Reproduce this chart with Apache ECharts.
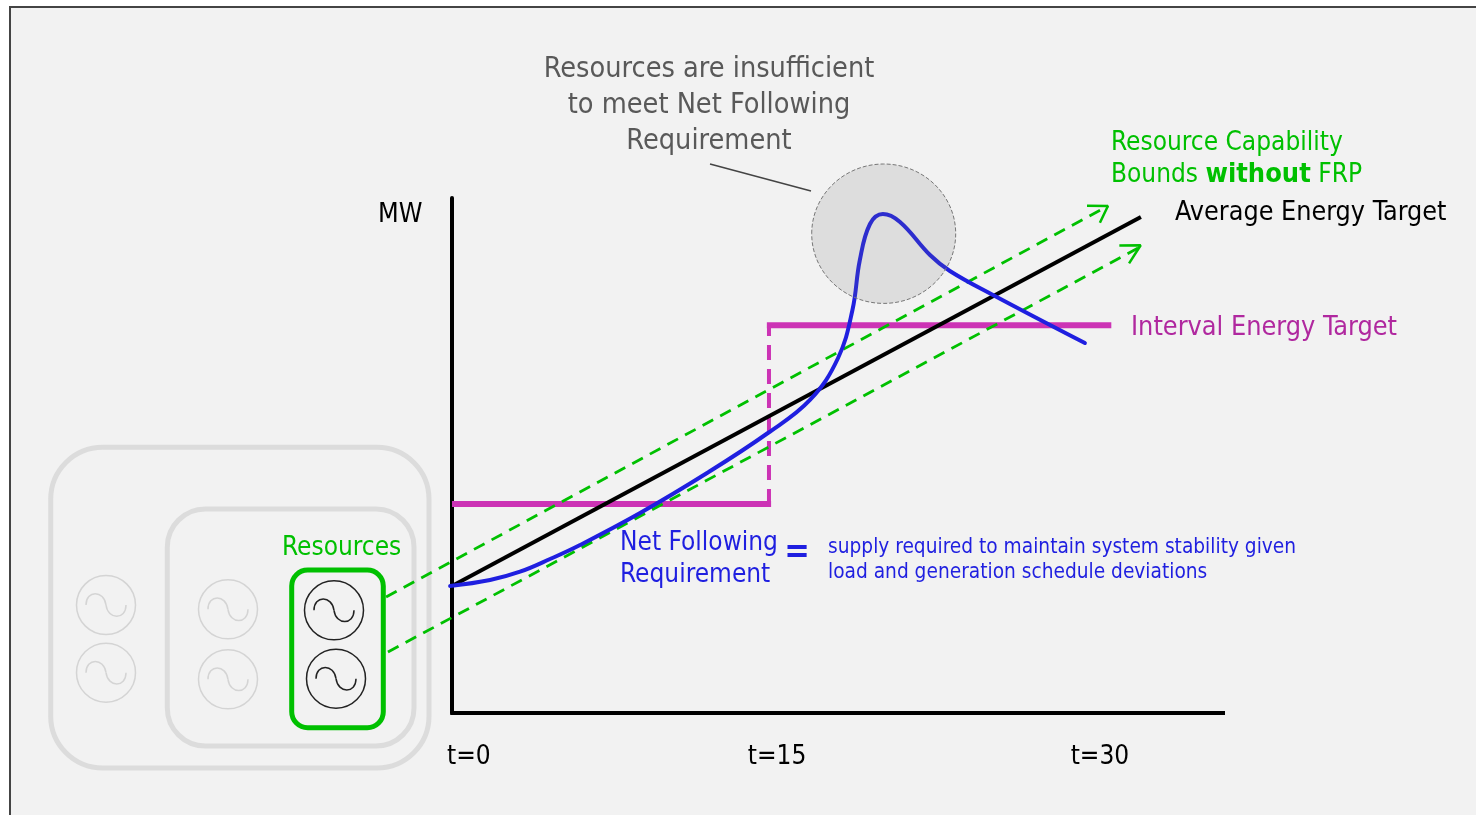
<!DOCTYPE html>
<html>
<head>
<meta charset="utf-8">
<title>Net Following Requirement</title>
<script src="https://cdn.jsdelivr.net/npm/echarts@6/dist/echarts.min.js"></script>
<style>
  html, body { margin: 0; padding: 0; background: #fff; }
  #chart { width: 1476px; height: 815px; }
</style>
</head>
<body>
<div id="chart"></div>
<script>
// x = minutes in the interval, y = MW on a 0-100 scale (no real units in the picture)
const X_TICK_POS = [0.8, 15.38, 30.66];   // labels sit a little off the real t values in the source
const X_TICK_LABELS = ["t=0", "t=15", "t=30"];

const BASE_X = [-0.08, 36.58];
const BASE_Y = [0, 0];

const AVG_X = [0, 32.6];
const AVG_Y = [24.66, 96.31];

const INTERVAL1_X = [0, 15.1];
const INTERVAL1_Y = [40.6, 40.6];
const INTERVAL2_X = [14.9, 31.2];
const INTERVAL2_Y = [75.3, 75.3];
const STEP_X = [15, 15];
const STEP_Y = [40.6, 75.3];

const UPPER_X = [-3.12, 31.04];
const UPPER_Y = [22.52, 98.45];
const UPPER_HEAD_X = [30.05, 31.04, 30.66];
const UPPER_HEAD_Y = [98.5, 98.45, 95.2];
const LOWER_X = [-3.03, 32.56];
const LOWER_Y = [11.84, 90.49];
const LOWER_HEAD_X = [31.58, 32.59, 32.04];
const LOWER_HEAD_Y = [90.78, 90.83, 87.32];

const NET_X = [-0.09, 1.8, 3.22, 4.64, 6.06, 8.9, 12.07, 14.95, 16.94, 18.27, 18.95, 19.3, 19.78, 20.39, 21.2, 22.62, 23.56, 25.6, 29.95];
const NET_Y = [24.66, 25.83, 27.44, 29.9, 32.62, 38.83, 46.6, 54.37, 60.78, 68.93, 78.25, 87.96, 94.95, 96.89, 95.34, 88.93, 85.83, 81.17, 71.84];

const FONT = "'DejaVu Sans Condensed', 'DejaVu Sans', sans-serif";
const GREEN = "#00c000";
const BLUE = "#1f1fe0";
const MAGENTA = "#cc33b5";

const zip = (xs, ys) => xs.map((x, i) => [x, ys[i]]);

function line(name, xs, ys, color, width, extra) {
  return {
    name, type: "line", data: zip(xs, ys), symbol: "none", clip: false, silent: true,
    lineStyle: { color, width, cap: "butt", ...(extra || {}) },
  };
}

function text(x, y, str, size, color, extra) {
  return {
    type: "text", x, y, z: 10, silent: true,
    style: { text: str, fontSize: size, fill: color, fontFamily: FONT, verticalAlign: "middle", ...(extra || {}) },
  };
}

function box(x1, y1, x2, y2, r, color, width) {
  return {
    type: "rect", silent: true, z: 1,
    shape: { x: x1, y: y1, width: x2 - x1, height: y2 - y1, r },
    style: { fill: "none", stroke: color, lineWidth: width },
  };
}

// generator symbol: circle with a sine wave in it (two bezier halves)
function gen(cx, cy, color) {
  const st = { fill: "none", stroke: color, lineWidth: 1.5 };
  return [
    { type: "circle", silent: true, z: 1, shape: { cx, cy, r: 29.5 }, style: st },
    { type: "bezierCurve", silent: true, z: 1,
      shape: { x1: cx - 20, y1: cy, cpx1: cx - 20, cpy1: cy - 15, cpx2: cx - 2, cpy2: cy - 15, x2: cx, y2: cy }, style: st },
    { type: "bezierCurve", silent: true, z: 1,
      shape: { x1: cx, y1: cy, cpx1: cx + 2, cpy1: cy + 15, cpx2: cx + 20, cpy2: cy + 15, x2: cx + 20, y2: cy }, style: st },
  ];
}

const chart = echarts.init(document.getElementById("chart"), null, { renderer: "canvas" });

chart.setOption({
  animation: false,
  backgroundColor: "#fff",
  // grid starts left of t=0 so the green bounds can run back to the resources box
  grid: { left: 384, right: 251, top: 198, bottom: 102 },
  xAxis: {
    type: "value", min: -3.218, max: 36.58,
    axisLine: { show: false },
    axisTick: { show: false }, splitLine: { show: false },
    axisLabel: {
      customValues: X_TICK_POS, margin: 31, color: "#000", fontSize: 26, fontFamily: FONT,
      formatter: v => X_TICK_LABELS[X_TICK_POS.indexOf(v)],
    },
  },
  yAxis: {
    type: "value", min: 0, max: 100,
    axisLine: { show: true, onZero: true, lineStyle: { color: "#000", width: 4 } },
    axisTick: { show: false }, splitLine: { show: false }, axisLabel: { show: false },
  },
  series: [
    line("Baseline", BASE_X, BASE_Y, "#000", 4),
    line("Interval Energy Target", INTERVAL1_X, INTERVAL1_Y, MAGENTA, 6),
    line("Interval Energy Target 2", INTERVAL2_X, INTERVAL2_Y, MAGENTA, 6),
    line("Interval step", STEP_X, STEP_Y, MAGENTA, 4, { type: [15, 9] }),
    line("Upper bound", UPPER_X, UPPER_Y, GREEN, 2.8, { type: [12, 8] }),
    line("Upper head", UPPER_HEAD_X, UPPER_HEAD_Y, GREEN, 2.5),
    line("Lower bound", LOWER_X, LOWER_Y, GREEN, 2.8, { type: [12, 8] }),
    line("Lower head", LOWER_HEAD_X, LOWER_HEAD_Y, GREEN, 2.5),
    line("Average Energy Target", AVG_X, AVG_Y, "#000", 4),
    { ...line("Net Following Requirement", NET_X, NET_Y, BLUE, 4, { cap: "round" }), smooth: 0.4 },
  ],
  graphic: [
    // slide panel, runs off the right and bottom of the page
    { type: "rect", silent: true, z: -10, shape: { x: 10, y: 7, width: 1600, height: 1000 },
      style: { fill: "#f2f2f2", stroke: "#444", lineWidth: 2 } },

    box(50.7, 447.3, 429, 768, 52, "#dcdcdc", 5),
    box(167.3, 509, 414, 746, 38, "#dcdcdc", 5),
    box(291.7, 570, 383.3, 727.7, 16, GREEN, 5),
    ...gen(106, 605, "#d4d4d4"),
    ...gen(106, 672.7, "#d4d4d4"),
    ...gen(228, 609.3, "#d4d4d4"),
    ...gen(228, 679.3, "#d4d4d4"),
    ...gen(334, 610.3, "#222"),
    ...gen(336, 678.7, "#222"),

    // shortfall circle sits over the curve, it washes the blue out a bit
    { type: "ellipse", silent: true, z: 5, shape: { cx: 883.7, cy: 233.7, rx: 72, ry: 69.7 },
      style: { fill: "rgba(120,120,120,0.17)", stroke: "#777", lineWidth: 1, lineDash: [4, 2] } },
    { type: "line", silent: true, z: 5, shape: { x1: 710, y1: 164, x2: 811, y2: 191 },
      style: { stroke: "#444", lineWidth: 1.5 } },

    text(709, 105.5, "Resources are insufficient\nto meet Net Following\nRequirement", 28.6, "#595959", { align: "center", lineHeight: 36 }),
    text(1111, 159, "Resource Capability\nBounds {b|without} FRP", 26, GREEN,
      { lineHeight: 32, rich: { b: { fontWeight: "bold", fontSize: 27, fill: GREEN, fontFamily: FONT } } }),
    text(1175, 213.5, "Average Energy Target", 26.7, "#000"),
    text(378, 215, "MW", 26.7, "#000"),
    text(1131, 328.5, "Interval Energy Target", 26.8, "#b0289f"),
    text(620, 559.5, "Net Following\nRequirement", 26, BLUE, { lineHeight: 32 }),
    text(797, 553, "=", 34, BLUE, { align: "center", fontWeight: "bold" }),
    text(828, 560, "supply required to maintain system stability given\nload and generation schedule deviations", 20.7, BLUE, { lineHeight: 25 }),
    text(282, 548, "Resources", 26, GREEN),
  ],
});
</script>
</body>
</html>
